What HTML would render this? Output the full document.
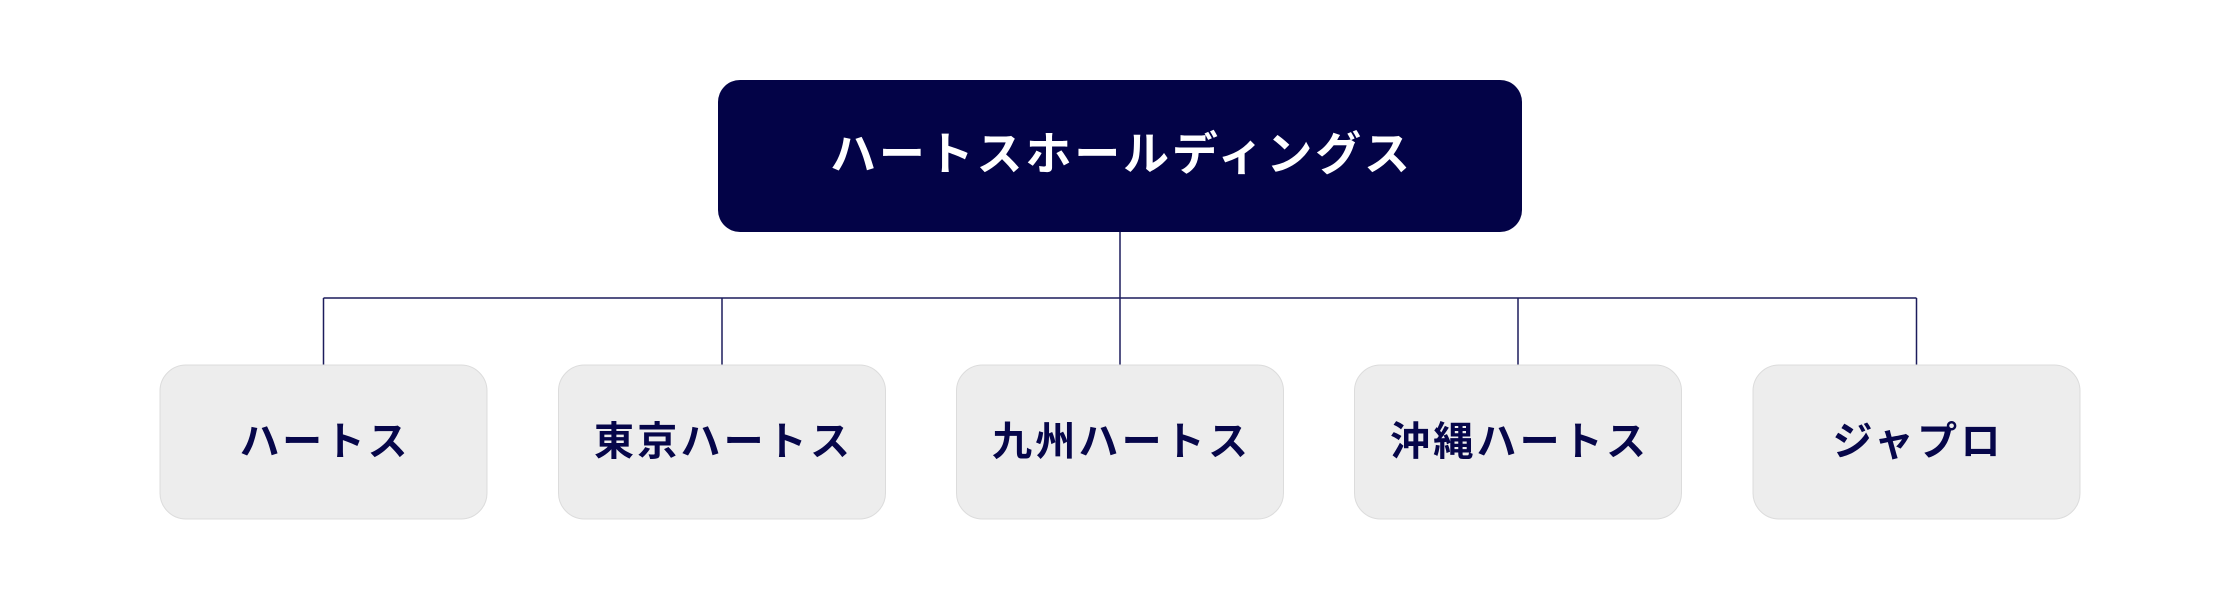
<!DOCTYPE html>
<html><head><meta charset="utf-8"><style>html,body{margin:0;padding:0;background:#fff;}svg{display:block}</style></head>
<body>
<svg width="2240" height="600" viewBox="0 0 2240 600" xmlns="http://www.w3.org/2000/svg">
<g stroke="#1c1c5c" stroke-width="1.5" fill="none">
<line x1="1120" y1="232" x2="1120" y2="298"/>
<line x1="323.5" y1="298" x2="1916.5" y2="298"/>
<line x1="323.5" y1="298" x2="323.5" y2="366"/>
<line x1="722" y1="298" x2="722" y2="366"/>
<line x1="1120" y1="298" x2="1120" y2="366"/>
<line x1="1518" y1="298" x2="1518" y2="366"/>
<line x1="1916.5" y1="298" x2="1916.5" y2="366"/>
</g>
<rect x="718" y="80" width="804" height="152" rx="22" fill="#030347"/>
<text x="1120" y="170" text-anchor="middle" fill="#fff" font-family="'Noto Sans CJK JP',sans-serif" font-weight="bold" font-size="46" textLength="580" lengthAdjust="spacing">ハートスホールディングス</text>
<g fill="#ededed" stroke="#dcdcdc" stroke-width="1">
<rect x="160" y="365" width="327" height="154" rx="26"/>
<rect x="558.5" y="365" width="327" height="154" rx="26"/>
<rect x="956.5" y="365" width="327" height="154" rx="26"/>
<rect x="1354.5" y="365" width="327" height="154" rx="26"/>
<rect x="1753" y="365" width="327" height="154" rx="26"/>
</g>
<g fill="#06064a" font-family="'Noto Sans CJK JP',sans-serif" font-weight="bold" font-size="40" text-anchor="middle" lengthAdjust="spacing">
<text x="323.5" y="455" textLength="168">ハートス</text>
<text x="722" y="455" textLength="256">東京ハートス</text>
<text x="1120" y="455" textLength="256">九州ハートス</text>
<text x="1518" y="455" textLength="256">沖縄ハートス</text>
<text x="1916.5" y="455" textLength="168">ジャプロ</text>
</g>
</svg>
</body></html>
